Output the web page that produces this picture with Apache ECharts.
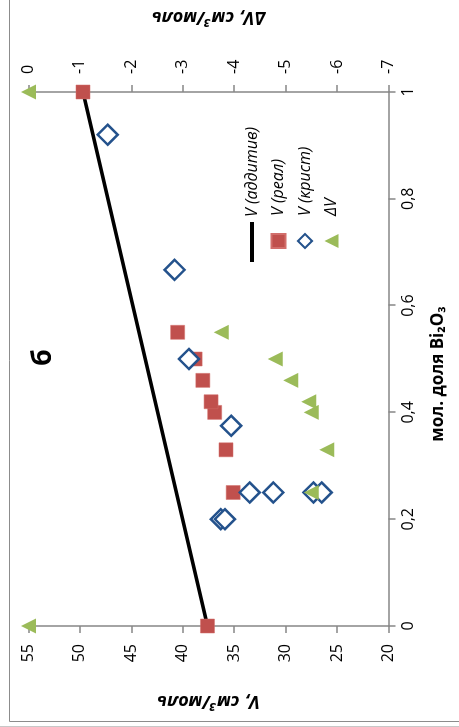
<!DOCTYPE html>
<html>
<head>
<meta charset="utf-8">
<script src="https://cdn.jsdelivr.net/npm/echarts@6/dist/echarts.min.js"></script>
<style>
html,body{margin:0;padding:0;background:#fff;width:459px;height:727px;overflow:hidden;}
#chart{position:absolute;left:0;top:0;width:727px;height:459px;transform-origin:0 0;transform:translate(0px,727px) rotate(-90deg);}
</style>
</head>
<body>
<div id="chart"></div>
<script>
// ---- data (mole fraction of Bi2O3, molar volumes cm3/mol) ----
const fracAdd = [0, 1];
const vAdd = [37.6, 49.7];

const fracReal = [0, 0.25, 0.33, 0.40, 0.42, 0.46, 0.50, 0.55, 1];
const vReal = [37.6, 35.1, 35.8, 36.9, 37.25, 38.05, 38.8, 40.5, 49.7];

const fracCryst = [0.92, 0.667, 0.50, 0.375, 0.25, 0.25, 0.25, 0.25, 0.20, 0.20];
const vCryst = [47.3, 40.8, 39.4, 35.3, 33.5, 31.2, 27.3, 26.5, 36.3, 35.9];

const fracDelta = [0, 0.25, 0.33, 0.40, 0.42, 0.46, 0.50, 0.55, 1];
const dV = [0, -5.5, -5.8, -5.5, -5.45, -5.1, -4.8, -3.75, 0];

const seriesNames = ['V (аддитив)', 'V (реал)', 'V (крист)', 'ΔV'];
const xTitle = 'мол. доля Bi₂O₃';
const yTitle = 'V, см³/моль';
const y2Title = 'ΔV, см³/моль';
const panelLabel = 'б';

const zip = (a, b) => a.map((x, i) => [x, b[i]]);
const FONT = '"Open Sans", "Noto Sans", sans-serif';
const axisGray = '#868686';
const legendText = { fontSize: 16, fontStyle: 'italic', color: '#000', lineHeight: 18, fontFamily: FONT };

const chart = echarts.init(document.getElementById('chart'));
chart.setOption({
  animation: false,
  backgroundColor: '#fff',
  textStyle: { fontFamily: FONT },
  title: {
    text: panelLabel, left: 361, top: 30, padding: 0,
    textStyle: { fontSize: 27, fontWeight: 'bold', color: '#000', fontFamily: FONT }
  },
  grid: { left: 101, right: 88, top: 28.5, bottom: 70.5, containLabel: false },
  legend: [
    {
      orient: 'vertical', left: 465, top: 243, padding: 0,
      itemWidth: 40, itemHeight: 4, icon: 'rect',
      data: [seriesNames[0]],
      textStyle: legendText
    },
    {
      orient: 'vertical', left: 478, top: 269.5, padding: 0,
      itemWidth: 14, itemHeight: 14, itemGap: 8.5,
      data: seriesNames.slice(1),
      textStyle: Object.assign({ padding: [0, 0, 0, 13] }, legendText)
    }
  ],
  xAxis: {
    type: 'value', min: 0, max: 1, interval: 0.2,
    name: xTitle, nameLocation: 'middle', nameGap: 41,
    nameTextStyle: { fontSize: 17, fontWeight: 'bold', color: '#000', padding: [0, 30, 0, 0], fontFamily: FONT },
    axisLine: { show: true, onZero: false, lineStyle: { color: axisGray, width: 1.5 } },
    axisTick: { show: true, length: 7, lineStyle: { color: axisGray, width: 1.5 } },
    axisLabel: { fontSize: 16, color: '#000', margin: 12,
      formatter: v => (Math.round(v * 10) / 10).toString().replace('.', ',') },
    splitLine: { show: false }
  },
  yAxis: [
    {
      type: 'value', min: 20, max: 55, interval: 5, position: 'left',
      name: yTitle, nameLocation: 'middle', nameGap: 66, nameRotate: 90,
      nameTextStyle: { fontSize: 18, fontWeight: 'bold', fontStyle: 'italic', color: '#000', fontFamily: FONT },
      axisLine: { show: true, onZero: false, lineStyle: { color: axisGray, width: 1.5 } },
      axisTick: { show: true, length: 7, lineStyle: { color: axisGray, width: 1.5 } },
      axisLabel: { fontSize: 16, color: '#000', margin: 18 },
      splitLine: { show: false }
    },
    {
      type: 'value', min: -7, max: 0, interval: 1, position: 'right',
      name: y2Title, nameLocation: 'middle', nameGap: 66, nameRotate: 90,
      nameTextStyle: { fontSize: 18, fontWeight: 'bold', fontStyle: 'italic', color: '#000', fontFamily: FONT },
      axisLine: { show: true, onZero: false, lineStyle: { color: axisGray, width: 1.5 } },
      axisTick: { show: true, length: 7, lineStyle: { color: axisGray, width: 1.5 } },
      axisLabel: { fontSize: 16, color: '#000', margin: 18 },
      splitLine: { show: false }
    }
  ],
  series: [
    {
      name: seriesNames[0], type: 'line', yAxisIndex: 0,
      data: zip(fracAdd, vAdd), symbol: 'none',
      lineStyle: { color: '#000', width: 3.5 }, itemStyle: { color: '#000' },
      z: 2
    },
    {
      name: seriesNames[1], type: 'scatter', yAxisIndex: 0,
      data: zip(fracReal, vReal), symbol: 'rect', symbolSize: 14, symbolKeepAspect: true,
      itemStyle: { color: '#C0504D', borderColor: '#d26e6b', borderWidth: 0.5, opacity: 1 },
      clip: false, z: 3
    },
    {
      name: seriesNames[2], type: 'scatter', yAxisIndex: 0,
      data: zip(fracCryst, vCryst), symbol: 'diamond', symbolSize: 20, symbolKeepAspect: true,
      itemStyle: { color: '#fff', borderColor: '#24528C', borderWidth: 2.5, opacity: 1 },
      clip: false, z: 4
    },
    {
      name: seriesNames[3], type: 'scatter', yAxisIndex: 1,
      data: zip(fracDelta, dV), symbol: 'triangle', symbolSize: 15, symbolKeepAspect: true,
      itemStyle: { color: '#9BBB59', opacity: 1 },
      clip: false, z: 5
    }
  ],
  graphic: [
    { type: 'rect', left: 3, top: 7, shape: { width: 900, height: 600 },
      style: { fill: 'none', stroke: '#8c8c8c', lineWidth: 1 }, silent: true, z: -1 },
    { type: 'line', shape: { x1: 0.5, y1: 0, x2: 0.5, y2: 459 },
      style: { stroke: '#c8c8c8', lineWidth: 1 }, silent: true, z: -1 }
  ]
});
</script>
</body>
</html>
